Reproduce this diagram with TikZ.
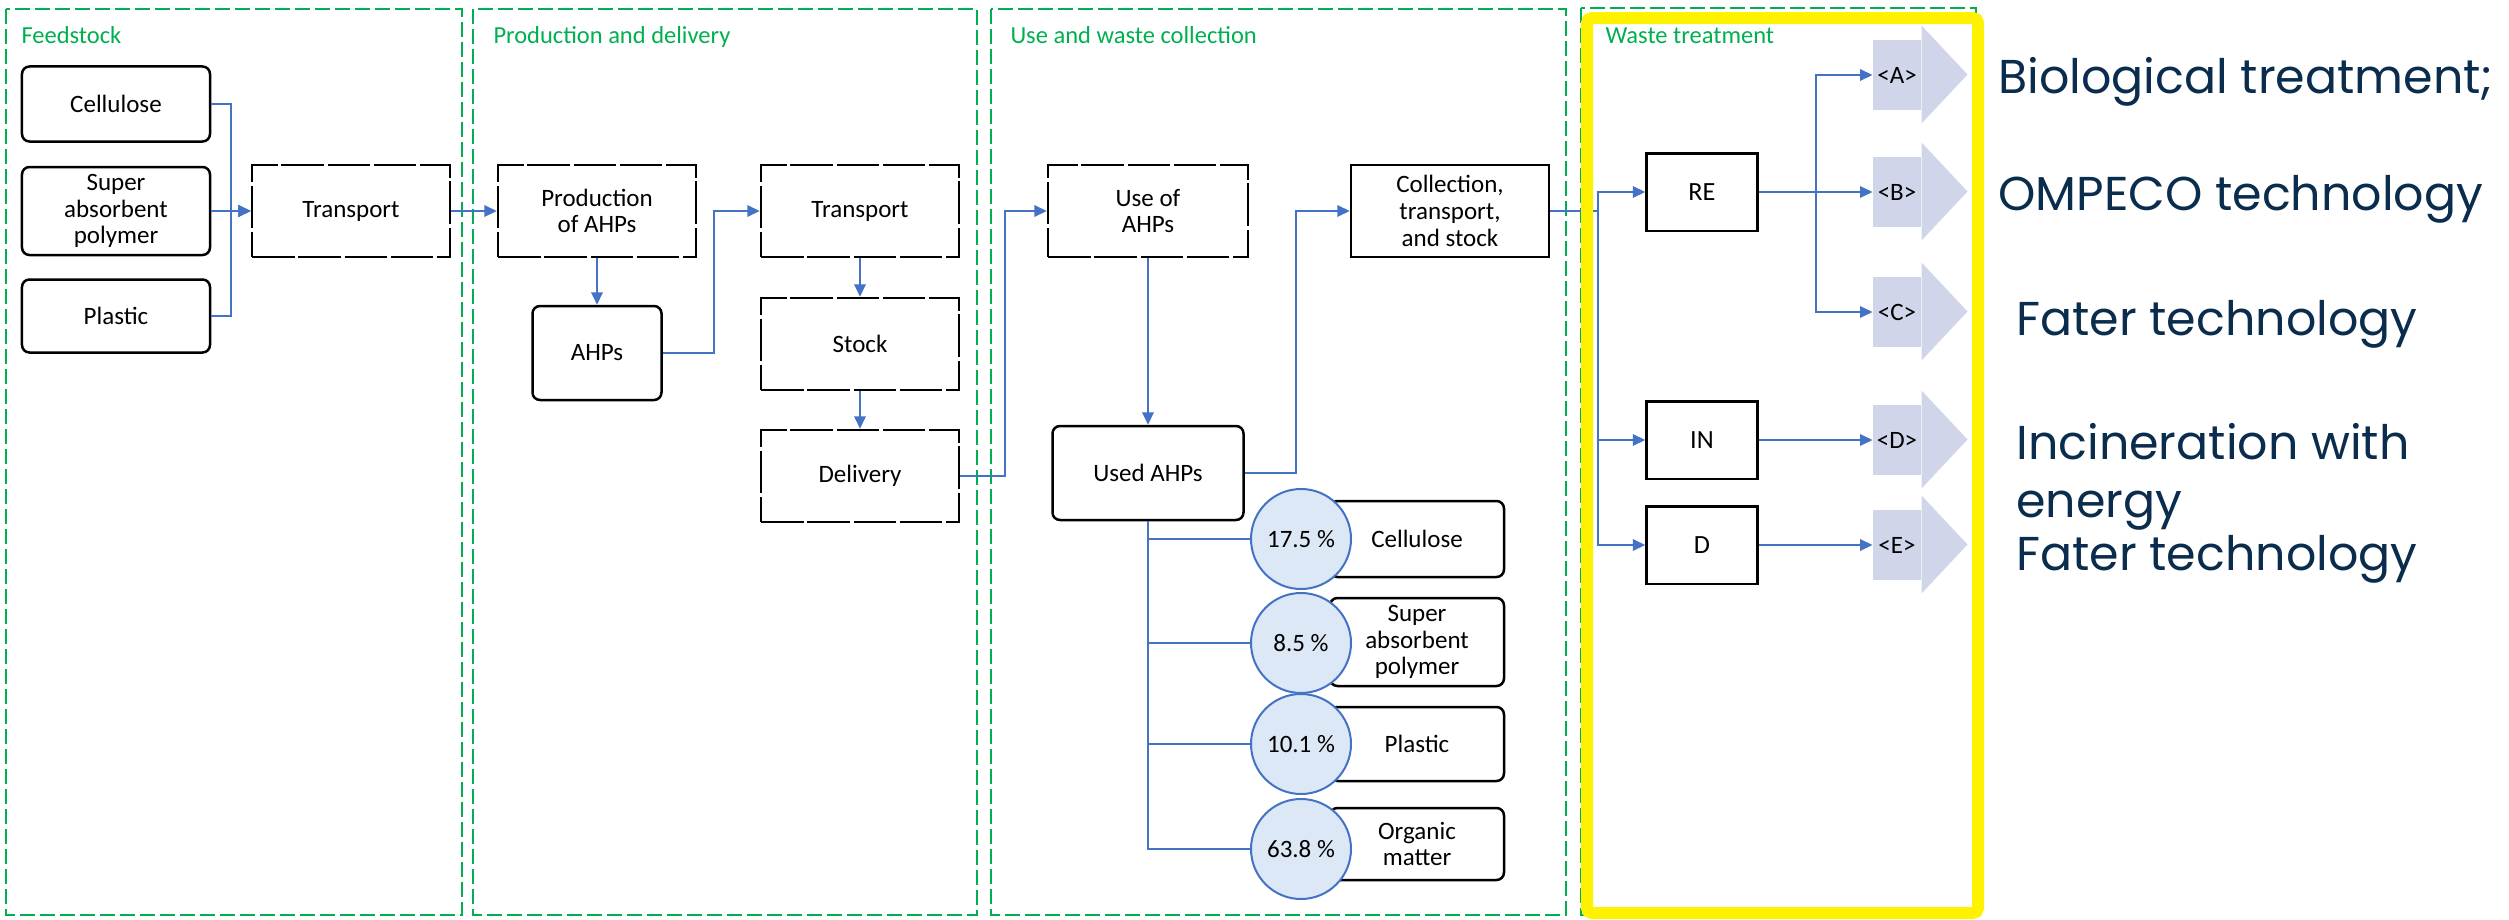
\documentclass[tikz,border=0pt]{standalone}
\usepackage{fontspec}
\setmainfont{Carlito}
\newfontfamily\popfont{Poppins}
\usetikzlibrary{arrows.meta,positioning}
\definecolor{green}{HTML}{00B050}
\definecolor{blue}{HTML}{4472C4}
\definecolor{skyfill}{HTML}{DDE8F6}
\definecolor{lilac}{HTML}{D0D5EA}
\definecolor{navy}{HTML}{0A2C4D}
\tikzset{
  frame/.style={draw=green,dash pattern=on 6pt off 2pt,line width=0.8pt},
  phase/.style={anchor=base west,inner sep=0pt,text=green,font=\fontsize{9.8}{11}\selectfont},
  box/.style={draw=black,line width=1pt,fill=white,align=center,inner sep=1pt,
    font=\fontsize{10}{10.7}\selectfont},
  dbox/.style={box,dash pattern=on 17pt off 1.5pt},
  rbox/.style={box,rounded corners=3pt},
  stagesize/.style={minimum width=79.2pt,minimum height=36.8pt},
  share/.style={circle,draw=blue,line width=0.8pt,fill=skyfill,minimum size=40pt,inner sep=0pt,
    font=\fontsize{10}{10.7}\selectfont},
  part/.style={rbox,minimum width=69.6pt},
  route/.style={box,minimum width=44.4pt,minimum height=31pt,font=\fontsize{10.5}{11}\selectfont},
  outcome/.style={fill=lilac,minimum width=19.2pt,minimum height=28pt,inner sep=0pt,
    font=\fontsize{10}{11}\selectfont},
  note/.style={anchor=base west,inner sep=0pt,text=navy,align=left,
    font=\popfont\fontsize{19}{23.2}\selectfont},
  flow/.style={-{Triangle[length=5pt,width=4.6pt]},draw=blue,line width=0.8pt},
  link/.style={draw=blue,line width=0.8pt}
}
\begin{document}
\begin{tikzpicture}[x=0.4pt,y=-0.4pt]
  \path[use as bounding box,fill=white] (0,0) rectangle (2509,920);
  \draw[frame] (6,9) rectangle (462,915);
  \draw[frame] (473,9) rectangle (977,915);
  \draw[frame] (991,9) rectangle (1566,915);
  \draw[frame] (1581,8) rectangle (1976,915);
  \node[phase] (feedstock) at (21,43) {Feedstock};
  \node[phase] (prodhead) at (493,43) {Production and delivery};
  \node[phase] (usehead) at (1010,43) {Use and waste collection};
  \node[phase] (wastehead) at (1605,44) {Waste treatment};

  \node[rbox,minimum width=75.2pt,minimum height=30pt] (cellulose) at (116,104) {Cellulose};
  \node[rbox,minimum width=75.2pt,minimum height=35.2pt] (sap) at (116,211) {Super\\absorbent\\polymer};
  \node[rbox,minimum width=75.2pt,minimum height=29.2pt] (plastic) at (116,316) {Plastic};
  \node[dbox,stagesize] (transporta) at (351,211) {Transport};

  \node[dbox,stagesize] (production) at (597,211) {Production\\of AHPs};
  \node[rbox,minimum width=51.6pt,minimum height=37.6pt] (ahps) at (597,353) {AHPs};
  \node[dbox,stagesize] (transportb) at (860,211) {Transport};
  \node[dbox,stagesize] (stock) at (860,344) {Stock};
  \node[dbox,stagesize] (delivery) at (860,476) {Delivery};

  \node[dbox,stagesize,minimum width=80pt] (use) at (1148,211) {Use of\\AHPs};
  \node[rbox,minimum width=76.4pt,minimum height=37.6pt] (used) at (1148,473) {Used AHPs};
  \node[box,stagesize] (collection) at (1450,211) {Collection,\\transport,\\and stock};

  \node[part,minimum height=30.4pt] (cellpart) at (1417,539) {Cellulose};
  \node[part,minimum height=35.2pt] (sappart) at (1417,642) {Super\\absorbent\\polymer};
  \node[part,minimum height=29.6pt] (plaspart) at (1417,744) {Plastic};
  \node[part,minimum height=28.8pt] (orgpart) at (1417,844) {Organic\\matter};
  \node[share] (pcta) at (1301,539) {17.5 \%};
  \node[share] (pctb) at (1301,643) {8.5 \%};
  \node[share] (pctc) at (1301,744) {10.1 \%};
  \node[share] (pctd) at (1301,849) {63.8 \%};

  \node[route] (re) at (1702,192) {RE};
  \node[route] (incin) at (1702,440) {IN};
  \node[route] (dis) at (1702,545) {D};

  \node[outcome] (oa) at (1897,75) {<A>};
  \node[outcome] (ob) at (1897,192) {<B>};
  \node[outcome] (oc) at (1897,312) {<C>};
  \node[outcome] (od) at (1897,440) {<D>};
  \node[outcome] (oe) at (1897,545) {<E>};
  \foreach \o in {oa,ob,oc,od,oe}
    \fill[lilac] (\o.north east) -- ++(0,-14) -- ++(46,49) -- ++(-46,49) -- ++(0,-14) -- cycle;

  \draw[flow] (cellulose.east) -- ++(20,0) |- (transporta.west);
  \draw[flow] (plastic.east) -- ++(20,0) |- (transporta.west);
  \draw[flow] (sap) -- (transporta);
  \draw[flow] (transporta) -- (production);
  \draw[flow] (production) -- (ahps);
  \draw[flow] (ahps.east) -- ++(51,0) |- (transportb.west);
  \draw[flow] (transportb) -- (stock);
  \draw[flow] (stock) -- (delivery);
  \draw[flow] (delivery.east) -- ++(45,0) |- (use.west);
  \draw[flow] (use) -- (used);
  \draw[flow] (used.east) -- ++(51,0) |- (collection.west);
  \draw[link] (used.south) |- (pcta.west);
  \draw[link] (used.south) |- (pctb.west);
  \draw[link] (used.south) |- (pctc.west);
  \draw[link] (used.south) |- (pctd.west);
  \draw[flow] (collection.east) -- ++(48,0) |- (re.west);
  \draw[flow] (collection.east) -- ++(48,0) |- (incin.west);
  \draw[flow] (collection.east) -- ++(48,0) |- (dis.west);
  \draw[flow] (re.east) -- ++(57,0) |- (oa.west);
  \draw[flow] (re.east) -- ++(57,0) |- (ob.west);
  \draw[flow] (re.east) -- ++(57,0) |- (oc.west);
  \draw[flow] (incin) -- (od);
  \draw[flow] (dis) -- (oe);

  \draw[yellow,line width=4.8pt,rounded corners=2pt] (1587,18) rectangle (1978,913);

  \node[note] (bio) at (1998,94) {Biological treatment;};
  \node[note] (ompeco) at (1998,210) {OMPECO technology};
  \node[note] (fatera) at (2016,335) {Fater technology};
  \node[note] (energy) at (2016,517) {Incineration with\\energy};
  \node[note] (faterb) at (2016,570) {Fater technology};
\end{tikzpicture}
\end{document}
